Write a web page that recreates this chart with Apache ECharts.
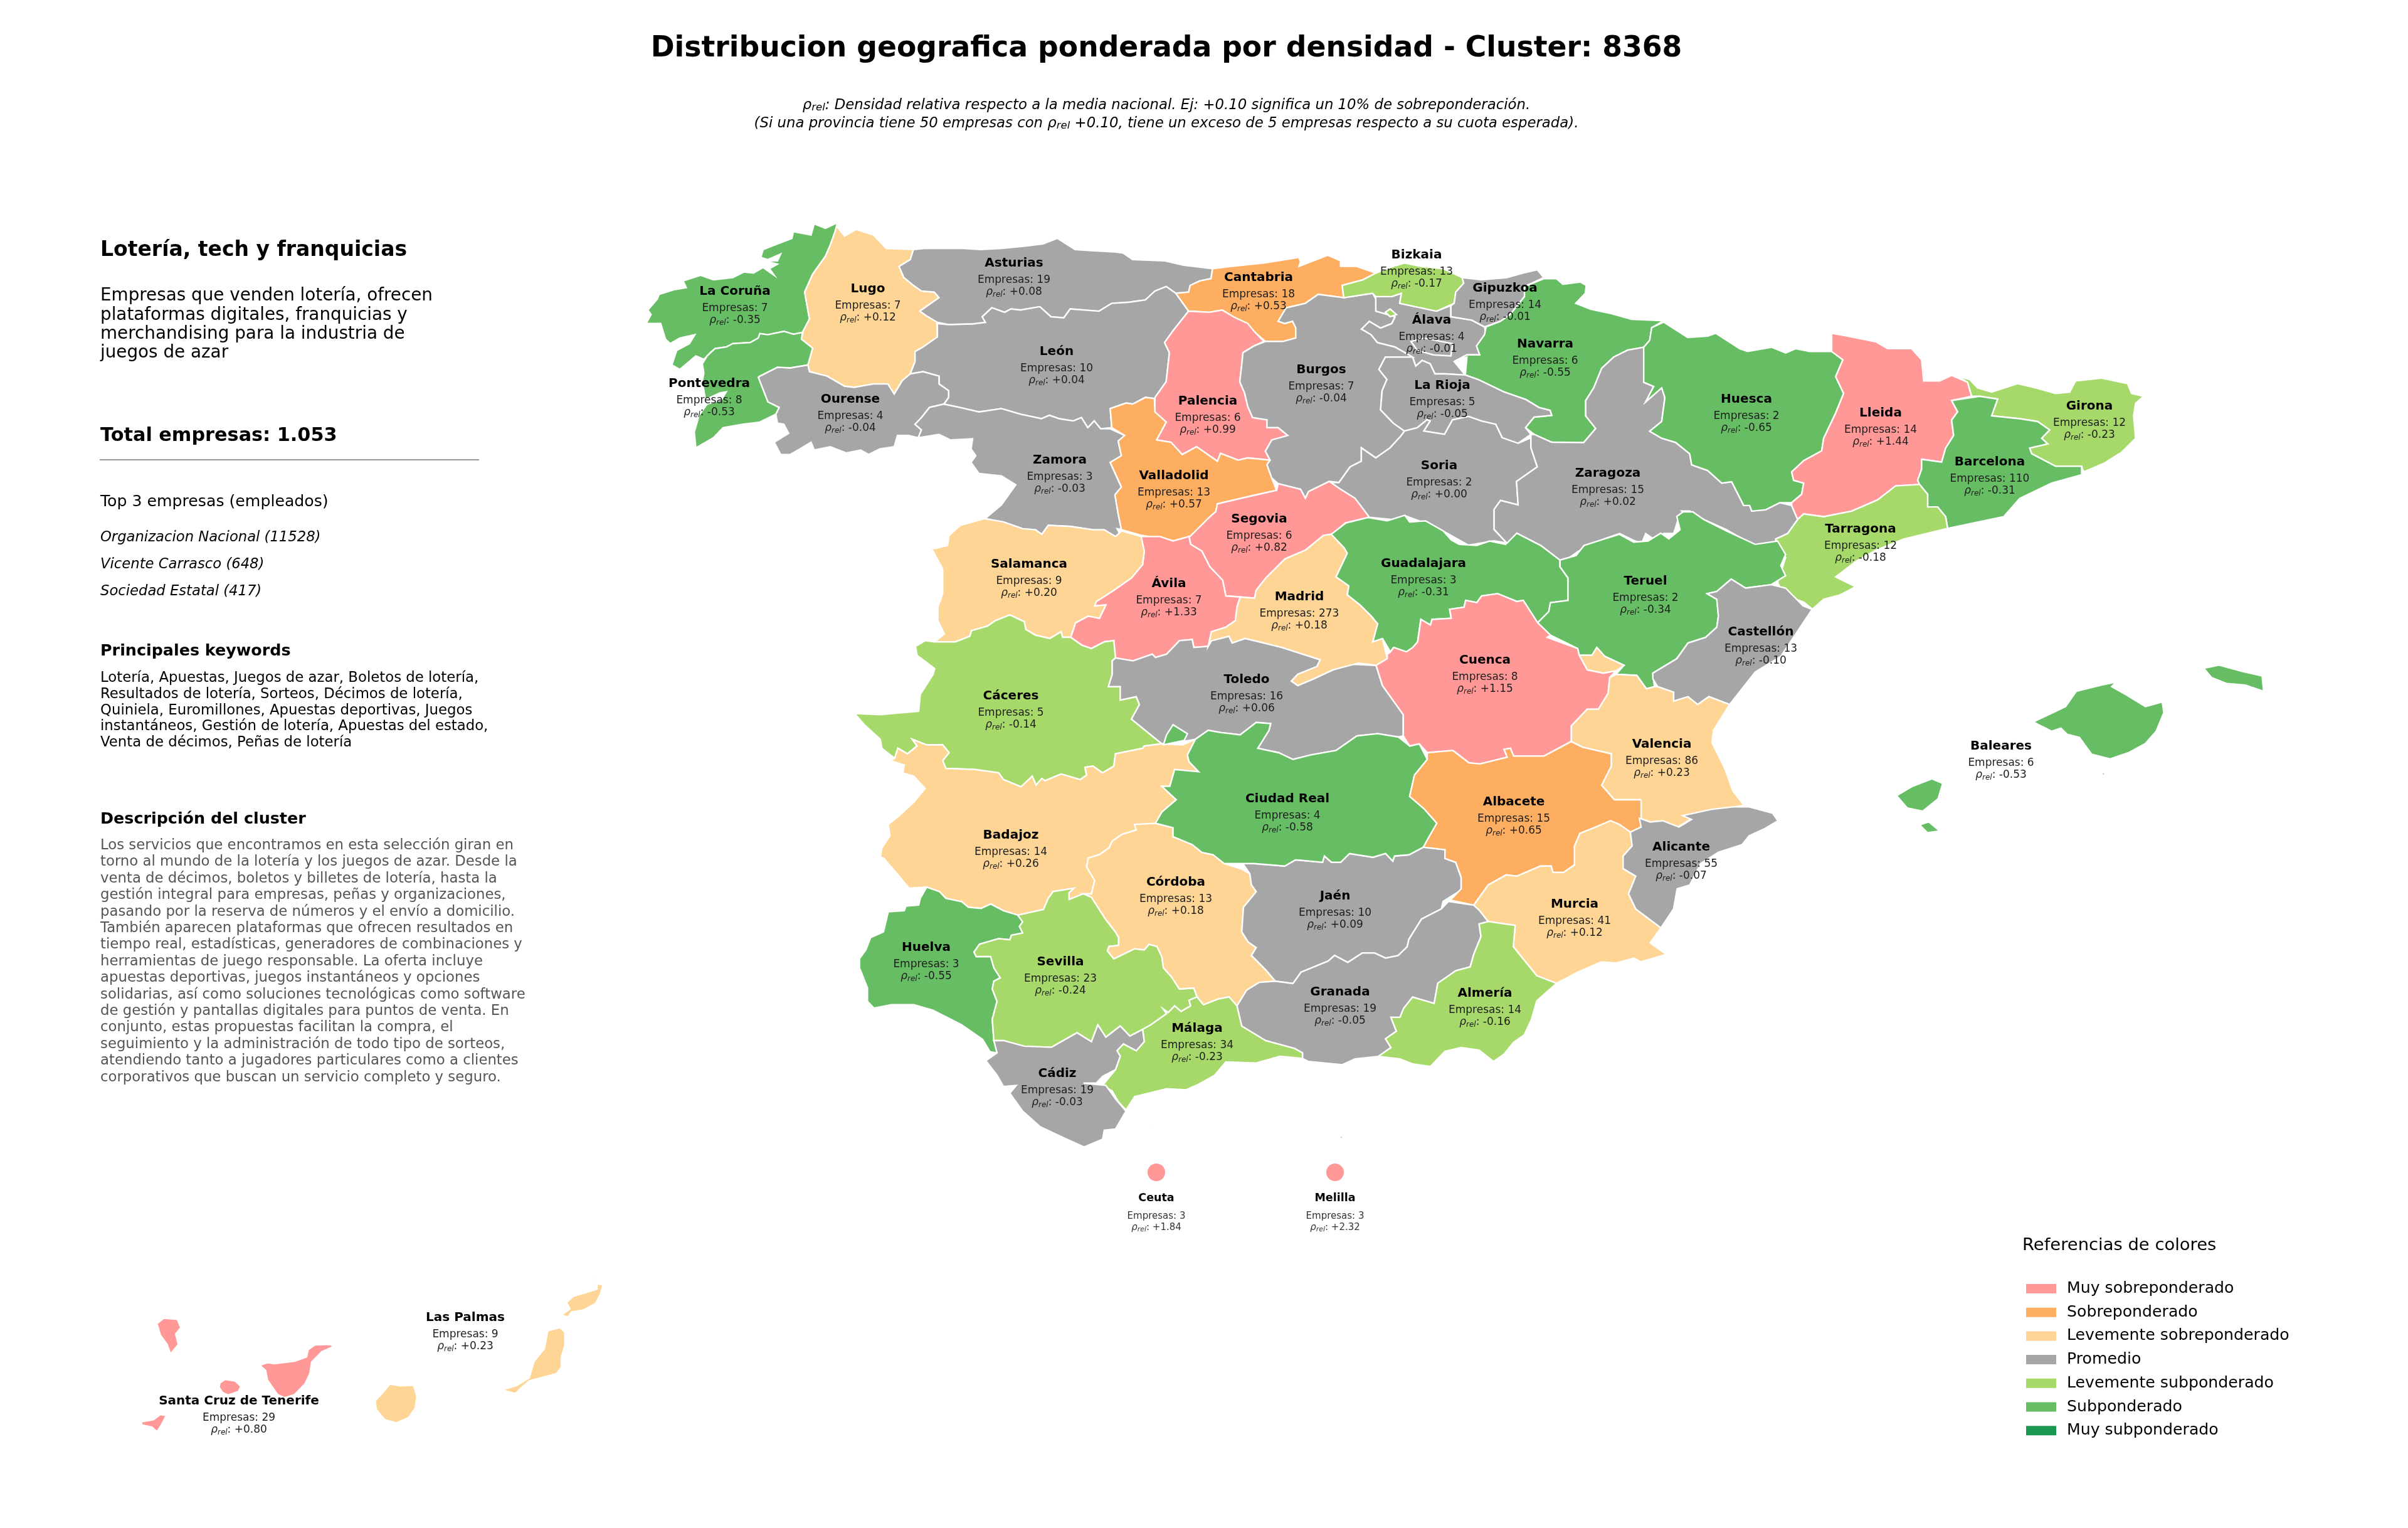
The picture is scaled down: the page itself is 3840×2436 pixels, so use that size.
<!DOCTYPE html>
<html>
<head>
    <meta charset="utf-8">
    <title>Distribucion geografica ponderada por densidad - Cluster: 8368</title>
    <script src="https://cdn.jsdelivr.net/npm/echarts@6/dist/echarts.min.js"></script>
    <style>
        html, body { margin: 0; padding: 0; width: 100%; height: 100%; background: #fff; overflow: hidden; }
        #chart { width: 3840px; height: 2436px; }
    </style>
</head>
<body>
    <div id="chart"></div>
    <script>
        // datos
        const provincias = ['La Coruña', 'Lugo', 'Asturias', 'León', 'Ourense', 'Pontevedra', 'Zamora', 'Cantabria', 'Bizkaia', 'Gipuzkoa', 'Álava', 'Navarra', 'Burgos', 'La Rioja', 'Palencia', 'Soria', 'Valladolid', 'Segovia', 'Huesca', 'Lleida', 'Girona', 'Barcelona', 'Zaragoza', 'Tarragona', 'Teruel', 'Castellón', 'Salamanca', 'Ávila', 'Madrid', 'Toledo', 'Cáceres', 'Ciudad Real', 'Guadalajara', 'Cuenca', 'Valencia', 'Albacete', 'Badajoz', 'Córdoba', 'Huelva', 'Sevilla', 'Málaga', 'Cádiz', 'Jaén', 'Granada', 'Almería', 'Murcia', 'Alicante', 'Baleares', 'Las Palmas', 'Santa Cruz de Tenerife', 'Ceuta', 'Melilla'];
        const empresas = [7, 7, 19, 10, 4, 8, 3, 18, 13, 14, 4, 6, 7, 5, 6, 2, 13, 6, 2, 14, 12, 110, 15, 12, 2, 13, 9, 7, 273, 16, 5, 4, 3, 8, 86, 15, 14, 13, 3, 23, 34, 19, 10, 19, 14, 41, 55, 6, 9, 29, 3, 3];
        const rhoRel = [-0.35, 0.12, 0.08, 0.04, -0.04, -0.53, -0.03, 0.53, -0.17, -0.01, -0.01, -0.55, -0.04, -0.05, 0.99, 0.00, 0.57, 0.82, -0.65, 1.44, -0.23, -0.31, 0.02, -0.18, -0.34, -0.10, 0.20, 1.33, 0.18, 0.06, -0.14, -0.58, -0.31, 1.15, 0.23, 0.65, 0.26, 0.18, -0.55, -0.24, -0.23, -0.03, 0.09, -0.05, -0.16, 0.12, -0.07, -0.53, 0.23, 0.80, 1.84, 2.32];

        const categorias = ['Muy sobreponderado', 'Sobreponderado', 'Levemente sobreponderado', 'Promedio', 'Levemente subponderado', 'Subponderado', 'Muy subponderado'];
        const coloresCategoria = ['#ff9896', '#fdae61', '#fed594', '#a6a6a6', '#a6d96a', '#66bd63', '#1a9850'];
        const limitesCategoria = [0.75, 0.30, 0.10, -0.1001, -0.30, -0.75];

        // centro de la linea "Empresas" de cada provincia (px de la imagen)
        const etiquetas = [[1172, 492], [1384, 488], [1617, 447], [1685, 588], [1356, 664], [1131, 639], [1690, 761], [2007, 470], [2259, 434], [2400, 487], [2283, 538], [2464, 576], [2107, 617], [2300, 642], [1926, 667], [2295, 770], [1872, 786], [2008, 855], [2785, 664], [2999, 686], [3332, 675], [3173, 764], [2564, 782], [2967, 871], [2624, 954], [2808, 1035], [1641, 927], [1864, 958], [2072, 979], [1988, 1111], [1612, 1137], [2053, 1301], [2270, 926], [2368, 1080], [2650, 1214], [2414, 1306], [1612, 1359], [1875, 1434], [1477, 1538], [1691, 1561], [1909, 1667], [1686, 1739], [2129, 1456], [2137, 1609], [2368, 1611], [2511, 1469], [2681, 1378], [3191, 1217], [742, 2128], [381, 2261], [1844, 1869], [2129, 1869]];
        const plazasAutonomas = ['Ceuta', 'Melilla'];

        const textoObjetivo = ['Empresas que venden lotería, ofrecen', 'plataformas digitales, franquicias y', 'merchandising para la industria de', 'juegos de azar'];
        const topEmpresas = ['Organizacion Nacional (11528)', 'Vicente Carrasco (648)', 'Sociedad Estatal (417)'];
        const keywords = ['Lotería, Apuestas, Juegos de azar, Boletos de lotería,', 'Resultados de lotería, Sorteos, Décimos de lotería,', 'Quiniela, Euromillones, Apuestas deportivas, Juegos', 'instantáneos, Gestión de lotería, Apuestas del estado,', 'Venta de décimos, Peñas de lotería'];
        const descripcion = ['Los servicios que encontramos en esta selección giran en', 'torno al mundo de la lotería y los juegos de azar. Desde la', 'venta de décimos, boletos y billetes de lotería, hasta la', 'gestión integral para empresas, peñas y organizaciones,', 'pasando por la reserva de números y el envío a domicilio.', 'También aparecen plataformas que ofrecen resultados en', 'tiempo real, estadísticas, generadores de combinaciones y', 'herramientas de juego responsable. La oferta incluye', 'apuestas deportivas, juegos instantáneos y opciones', 'solidarias, así como soluciones tecnológicas como software', 'de gestión y pantallas digitales para puntos de venta. En', 'conjunto, estas propuestas facilitan la compra, el', 'seguimiento y la administración de todo tipo de sorteos,', 'atendiendo tanto a jugadores particulares como a clientes', 'corporativos que buscan un servicio completo y seguro.'];

        // contornos trazados sobre recortes de la imagen: cada recorte tiene su origen y escala
        const recorte = (x0, y0, fx, fy) => (...n) => {
            const pts = [];
            for (let i = 0; i < n.length; i += 2) pts.push([x0 + n[i] / fx, y0 + n[i + 1] / fy]);
            return pts;
        };
        const A = recorte(1000, 330, 1.96, 2.8);
        const B = recorte(1750, 330, 1.96, 2.8);
        const C = recorte(2500, 480, 1.568, 2.24);
        const D = recorte(1340, 800, 1.96, 2.8);
        const E = recorte(2100, 800, 1.96, 2.8);
        const F = recorte(1340, 1300, 1.96, 2.8);
        const G = recorte(2000, 1200, 1.742, 2.489);
        const H = recorte(150, 2000, 1.845, 3);
        const K = recorte(1750, 1780, 2.8, 3);
        const Y = recorte(0, 0, 1 / 2.449, 1 / 2.449);

        const contornos = {
            'La Coruña': [A(658,70,620,95,585,75,575,125,520,110,515,140,470,165,425,190,418,225,440,235,480,210,470,240,430,240,470,255,445,275,460,305,425,270,395,295,365,290,330,315,270,325,230,305,175,330,185,360,145,370,100,390,95,410,65,460,75,480,60,520,105,520,120,590,135,610,165,585,212,570,195,610,155,640,140,705,165,725,215,665,240,680,260,650,275,632,310,625,330,610,385,605,410,585,415,565,440,570,490,555,520,568,548,560,570,500,555,380,580,300,620,220,635,170,650,110)],
            'Lugo': [A(655,85,680,130,715,100,770,125,810,185,895,190,885,235,850,265,865,315,895,350,920,375,960,380,975,405,945,435,915,465,935,485,968,510,970,580,925,625,900,645,900,690,885,745,860,775,835,835,815,790,770,790,710,805,680,800,625,755,570,735,565,705,580,630,545,590,550,555,570,500,555,380,580,300,620,220,635,170,650,110)],
            'Asturias': [[...A(895,190,930,185,1050,185,1105,190,1170,185,1240,175,1300,165,1345,140,1400,190,1450,195,1520,200), ...B(80,205,110,235,210,240,270,260,360,275,355,320,320,330,290,350,285,380,245,385,215,355,180,375,150,415,100,425,45,430), ...A(1475,465,1385,455,1365,495,1325,490,1290,445,1230,460,1200,455,1180,470,1140,450,1110,490,1120,515,1080,522,1005,525,970,515,935,485,915,465,945,435,975,405,960,380,920,375,895,350,865,315,850,265,885,235)]],
            'León': [[...A(970,520,1005,525,1080,522,1120,515,1110,490,1140,450,1180,470,1200,455,1230,460,1290,445,1325,490,1365,495,1385,455,1475,465,1515,430), ...B(100,425,150,415,180,375,215,355,245,385,285,465,235,555,210,605,225,650,215,780,190,830,178,855,150,850,110,880,90,875,40,900,45,985), ...A(1480,990,1460,955,1440,985,1420,940,1395,955,1350,945,1320,930,1295,945,1230,925,1170,900,1100,915,1040,895,990,880,1005,850,1005,820,975,790,975,755,925,735,885,745,900,690,900,645,925,625,970,580)]],
            'Ourense': [A(415,755,470,715,510,718,565,705,570,735,625,755,680,800,710,805,770,790,815,790,835,835,860,775,885,745,925,735,975,755,975,790,1005,820,1005,850,990,880,945,895,920,940,900,970,920,995,910,1030,880,1020,845,1020,835,1070,790,1080,755,1105,730,1085,685,1098,635,1070,585,1085,575,1050,540,1080,510,1105,480,1105,460,1050,505,1010,490,970,470,965,465,925,475,895,440,870,425,815,410,760)],
            'Pontevedra': [A(275,632,310,625,330,610,385,605,410,585,415,565,440,570,490,555,520,568,548,560,545,590,580,630,565,705,510,718,470,715,415,755,410,760,425,815,440,870,475,895,465,925,415,960,360,970,300,985,270,1030,215,1075,210,1005,225,930,250,880,295,860,310,825,290,830,245,860,235,780,240,740,235,700,250,665)],
            'Zamora': [[...A(990,880,1040,895,1100,915,1170,900,1230,925,1295,945,1320,930,1350,945,1395,955,1420,940,1440,985,1460,955,1480,990,1510,990), ...B(85,1020,65,1045,75,1110,40,1140,75,1250,55,1285,65,1370,75,1440), ...D(865,120,880,160,860,155,825,125,790,125,720,110,650,105,630,145,610,125,570,120,510,90,450,75), ...A(1120,1390,1170,1330,1215,1240,1170,1200,1100,1190,1075,1140,1090,1110,1075,1080,1080,1035,1010,1040,975,1015,910,1030,920,995,900,970,920,940,945,895)]],
            'Cantabria': [B(360,275,420,265,520,250,630,225,635,245,630,265,720,215,760,240,760,265,810,265,870,295,830,325,765,350,770,405,690,390,650,430,590,450,565,510,585,520,610,510,620,540,620,585,580,600,550,600,525,600,485,550,465,520,425,490,390,460,350,470,285,465,245,385,285,380,290,350,320,330,355,320)],
            'Palencia': [B(285,465,350,470,390,460,425,490,470,520,490,555,520,600,490,620,455,650,450,720,445,780,460,830,470,890,485,940,530,950,530,985,565,985,595,1020,545,1040,525,1090,540,1130,470,1120,440,1130,385,1100,375,1135,310,1070,265,1105,230,1050,185,1040,215,960,180,915,180,850,195,820,215,780,225,650,210,605,235,555)],
            'Valladolid': [B(40,900,90,875,110,880,150,850,178,855,180,915,215,960,185,1040,230,1050,265,1105,310,1070,375,1135,385,1100,440,1130,470,1120,540,1130,530,1150,545,1210,560,1265,480,1290,375,1325,370,1360,350,1385,290,1470,240,1490,135,1465,75,1440,65,1370,55,1285,75,1250,40,1140,75,1110,65,1045,85,1020,45,985)],
            'Álava': [B(870,400,920,400,950,385,945,430,1060,465,1105,440,1105,490,1170,505,1210,535,1215,570,1185,620,1195,660,1155,660,1115,690,1150,750,1085,745,1055,745,1040,700,1015,685,995,710,985,670,930,625,875,605,855,570,825,545,850,510,885,540,920,520,930,490,870,465,870,410)],
            'Burgos': [B(590,450,650,430,690,390,770,405,860,385,870,410,870,465,930,490,920,520,885,540,850,510,825,545,855,570,875,605,930,625,985,670,900,670,880,725,905,770,890,820,885,905,925,965,960,1000,950,1020,915,1075,870,1120,825,1075,825,1135,790,1160,755,1230,725,1225,660,1270,650,1300,635,1260,565,1235,545,1210,530,1150,540,1130,525,1090,545,1040,595,1020,565,985,530,985,530,950,485,940,470,890,460,830,445,780,450,720,455,650,490,620,525,600,550,600,580,600,620,585,620,540,610,510,585,520,565,510), B(980,600,1020,585,1110,610,1105,665,1050,660,1000,640)],
            'Bizkaia': [B(870,295,925,265,960,250,1010,265,1080,275,1140,315,1145,340,1120,380,1115,430,1060,465,945,430,950,385,920,400,870,400,860,385,770,405,765,350,830,325), B(900,470,915,455,935,480,915,490)],
            'Gipuzkoa': [B(1140,315,1200,325,1280,315,1330,295,1375,280,1395,315,1335,355,1335,400,1290,480,1260,510,1210,535,1170,505,1105,490,1105,440,1115,430,1120,380,1145,340)],
            'Navarra': [[...B(1335,355,1395,320,1435,320,1455,345,1510,335,1528,350,1525,385,1495,430,1540,455), ...C(60,30,110,45,160,65,240,70,210,95,205,140,190,165,150,175,115,200,85,240,65,310,45,355,45,410,70,455,40,505,0,510), ...B(1420,1050,1365,1015,1338,985,1365,938,1420,930,1415,908,1380,895,1340,860,1270,825,1190,770,1150,750,1155,670,1115,690,1155,660,1195,660,1185,620,1210,570,1215,535,1260,510,1290,480,1335,400)]],
            'La Rioja': [B(900,670,985,670,995,710,1015,685,1040,700,1055,745,1085,745,1150,750,1190,770,1270,825,1340,860,1380,895,1415,908,1420,930,1365,938,1338,985,1355,1015,1315,1055,1265,1030,1245,970,1200,955,1160,935,1110,950,1085,1015,1020,1000,1040,955,1030,950,1000,985,960,1000,925,965,885,905,890,820,905,770,880,725)],
            'Soria': [B(960,1000,1000,985,1030,950,1040,955,1020,1000,1085,1015,1110,950,1160,935,1200,955,1245,970,1265,1030,1315,1055,1355,1030,1355,1075,1375,1160,1345,1190,1310,1225,1315,1330,1260,1310,1240,1350,1240,1440,1280,1500,1240,1490,1160,1510,1060,1430,965,1380,920,1395,850,1385,805,1300,760,1260,725,1230,755,1230,790,1160,825,1135,825,1075,870,1120,915,1075,950,1020)],
            'Segovia': [[...B(565,1235,635,1260,650,1300,660,1270,725,1225,760,1260,805,1300,850,1385,775,1410,735,1460), ...D(1510,150,1455,215,1390,255,1330,340,1300,395,1295,430,1250,425,1205,420,1195,350,1155,290,1130,220,1095,190,1090,155), ...B(290,1470,350,1385,370,1360,375,1325,480,1290,560,1265)]],
            'Ávila': [D(940,155,1000,155,1040,175,1090,155,1095,190,1130,220,1155,290,1195,350,1205,420,1250,425,1240,470,1235,530,1205,560,1160,580,1150,645,1105,650,1100,615,1060,620,1020,680,985,695,975,680,915,710,860,697,855,620,825,625,785,655,755,640,720,605,735,540,775,510,810,520,830,460,795,465,800,445,850,400,910,340,945,280,950,220)],
            'Salamanca': [D(450,75,510,90,570,120,610,125,630,145,650,105,720,110,790,125,825,125,860,155,880,130,940,155,950,220,945,280,910,340,850,400,800,445,795,465,830,460,810,520,775,510,735,540,720,605,695,605,690,580,655,610,610,595,580,570,575,535,530,505,485,530,460,555,410,575,405,600,360,625,295,625,325,590,305,530,305,470,320,410,320,300,290,220,275,215,335,195,340,150,375,105)],
            'Cáceres': [D(235,645,265,620,295,625,360,625,405,600,410,575,460,555,485,530,530,505,575,535,580,570,610,595,655,610,690,580,695,605,720,605,755,640,785,655,825,625,855,620,860,697,850,710,850,770,838,825,875,825,875,885,925,870,935,905,910,970,1005,1080,950,1090,945,1100,860,1125,855,1180,820,1210,790,1180,765,1185,770,1220,750,1240,690,1215,640,1245,630,1235,612,1265,600,1225,565,1272,510,1240,495,1210,420,1195,330,1190,320,1155,340,1120,320,1085,270,1085,225,1060,240,1090,210,1125,180,1100,170,1145,130,1100,125,1060,75,995,45,945,125,950,245,935,250,860,290,770,295,745,240,685)],
            'Badajoz': [[...D(155,1155,170,1145,180,1100,210,1125,240,1090,225,1060,270,1085,320,1085,340,1120,320,1155,330,1190,420,1195,495,1210,510,1240,565,1272,600,1225,612,1265,630,1235,640,1245,690,1215,750,1240,770,1220,765,1185,790,1180,820,1210,855,1180,860,1125,945,1100,950,1090,1005,1080,1070,1085,1110,1060,1085,1130,1090,1160,1120,1205,1045,1195,1030,1270,1005,1270,1050,1330,1005,1385,985,1440), ...F(920,40,925,65,880,85,850,115,840,145,810,175,775,190,770,230,795,290,785,350,760,350,715,375,715,345,730,325,665,340,650,370,635,420,555,445,510,425,470,395,440,415,400,410,380,385,330,370,310,340,270,320,215,325,180,265,135,190,125,185,130,145,155,90,150,40), ...D(185,1400,230,1340,265,1280,230,1225,195,1210,200,1175)]],
            'Huelva': [F(270,320,310,340,330,370,380,385,400,410,440,415,470,395,510,425,555,445,570,475,560,495,570,525,535,535,530,555,495,550,435,575,418,610,425,630,470,630,480,680,500,725,480,740,475,775,490,830,475,910,480,1005,490,1060,468,1055,445,1000,380,935,290,870,230,845,160,845,105,860,85,830,85,770,60,680,60,640,80,600,95,545,135,520,150,430,200,425,205,405,245,400,250,370)],
            'Sevilla': [F(555,445,635,420,650,370,665,340,730,325,715,345,715,375,760,350,785,365,805,410,830,465,860,520,870,545,870,580,840,585,835,605,855,640,920,595,950,600,965,575,990,585,1005,630,1010,680,1035,720,1060,775,1105,770,1115,810,1090,825,1095,850,1065,875,1045,850,1025,880,1010,865,1020,885,970,935,945,955,905,985,875,940,830,990,805,935,785,1010,740,970,660,1035,575,1030,510,1005,480,1005,475,910,490,830,475,775,480,740,500,725,480,680,470,630,425,630,418,610,435,575,495,550,530,555,535,535,570,525,560,495,570,475)],
            'Córdoba': [F(985,35,1040,55,1040,95,1100,130,1130,165,1165,175,1200,215,1255,240,1280,260,1285,310,1300,340,1260,410,1255,520,1275,565,1300,590,1285,625,1330,690,1360,740,1310,745,1270,780,1240,850,1215,810,1180,820,1135,845,1115,810,1105,770,1060,775,1035,720,1010,680,1005,630,990,585,965,575,950,600,920,595,855,640,835,605,840,585,870,580,870,545,860,520,830,465,805,410,785,365,760,350,785,350,795,290,770,230,775,190,810,175,840,145,850,115,880,85,925,65,920,40)],
            'Málaga': [F(1115,810,1135,845,1180,820,1215,810,1240,850,1255,940,1330,1005,1420,1040,1445,1060,1445,1085,1375,1075,1300,1105,1205,1100,1170,1160,1120,1200,1080,1225,1020,1220,920,1255,893,1315,870,1280,850,1230,820,1205,860,1135,875,1075,865,1050,885,1020,925,1050,950,1010,945,955,970,935,1020,885,1010,865,1025,880,1045,850,1065,875,1095,850,1090,825)],
            'Cádiz': [F(480,1005,510,1005,575,1030,660,1035,740,970,785,1010,805,935,830,990,875,940,905,985,945,955,950,1010,925,1050,885,1020,865,1050,875,1075,860,1135,820,1165,800,1195,760,1195,830,1205,860,1265,893,1320,860,1400,825,1405,820,1445,762,1480,700,1440,625,1390,570,1320,530,1240,550,1205,510,1210,490,1160,455,1095,490,1060)],
            'Jaén': [[...F(1258,215,1280,260,1285,310,1300,340,1260,410,1255,520,1275,565,1300,590,1285,625,1330,690,1360,740,1415,750,1440,700,1525,650,1545,625), ...G(260,832,300,795,335,795,365,815,400,805,425,770,430,740,465,660,520,620,525,590,575,545,575,495,560,435,530,420,530,385,470,375,430,405,390,410,385,430,365,400,330,415,265,400,240,435,215,435,195,410,190,435,115,425,85,450,0,440)]],
            'Toledo': [[...D(860,697,915,710,975,680,985,695,1020,680,1060,620,1100,615,1105,650,1150,645,1160,620,1215,600,1225,630,1265,610,1310,625,1380,650,1500,705,1490,735,1430,770,1410,800,1430,820,1480,790,1540,750), ...E(110,725,185,730,205,820,270,950,270,1045,255,1050,190,1035,125,1045,60,1110), ...D(1470,1130,1415,1150,1370,1120,1305,1100,1340,1020,1345,990,1300,985,1250,1040,1190,1030,1150,1020,1110,1060,1070,1070,1005,1080,910,970,935,905,925,870,875,885,875,825,838,825,850,770,850,710)]],
            'Ciudad Real': [[...D(1110,1060,1150,1020,1190,1030,1250,1040,1300,985,1345,990,1340,1020,1305,1100,1370,1120,1415,1150,1470,1130), ...E(60,1110,125,1045,190,1035,255,1050,290,1090,320,1080,345,1150,305,1220,290,1315,335,1370,375,1435,345,1510), ...G(470,375,430,405,390,410,385,430,365,400,330,415,265,400,240,435,215,435,195,410,190,435,115,425,85,450,0,440), ...F(1200,215,1165,175,1130,165,1100,130,1040,95,1040,55,985,35), ...D(1005,1385,1050,1330,1005,1270,1030,1270,1045,1195,1120,1205,1090,1160,1085,1130)], D(1040,995,1085,1035,1075,1065,1010,1085,1020,1040)],
            'Madrid': [[...E(45,145,85,205,95,230,75,290,60,335,100,375,95,415,135,460,170,510,190,545,175,625,205,610,220,700,185,730,130,720), ...D(1540,750,1480,790,1430,820,1410,800,1430,770,1490,735,1500,705,1380,650,1310,625,1265,610,1225,630,1215,600,1160,620,1150,645,1160,580,1205,560,1235,530,1240,470,1250,425,1295,430,1300,395,1330,340,1390,255,1455,215,1510,150)]],
            'Guadalajara': [E(45,145,90,95,160,70,220,85,275,60,290,90,340,85,395,130,420,170,445,190,500,195,540,175,590,190,595,145,625,140,700,195,760,260,760,290,785,340,785,440,730,450,725,490,690,540,645,440,625,445,565,410,515,420,500,450,465,440,460,470,415,480,420,520,360,525,355,550,325,525,315,625,300,650,280,670,240,650,230,670,205,610,175,625,190,545,170,510,135,460,95,415,100,375,60,335,75,290,95,230,85,205)],
            'Zaragoza': [[...C(190,165,190,240,190,290,215,305,195,360,235,310,243,345,235,430,205,465,235,490,270,505,305,545,310,585,350,605,385,650,410,645,440,730,455,730,460,750,495,745,530,720,560,730,575,780,550,830,520,850,525,875,470,875,445,855,395,815,340,780,305,750,285,750,300,770,305,800,275,785,265,830,240,830,220,855,195,830,185,865,165,855,130,830,90,850,50,875,25,895,0,920), ...E(810,240,760,260,700,195,625,140,594,185,554,123), ...B(1240,1350,1260,1310,1315,1330,1310,1225,1345,1190,1375,1160,1355,1075,1355,1015,1365,1015,1420,1050), ...C(40,505,70,455,45,410,45,355,65,310,85,240,115,200,150,175)]],
            'Huesca': [C(240,75,300,130,350,125,370,115,430,170,450,180,510,165,545,185,570,170,605,180,665,180,688,210,670,270,690,330,670,400,640,490,635,535,590,570,560,610,565,640,590,650,585,690,560,720,530,720,495,745,460,750,455,730,440,730,410,645,385,650,350,605,310,585,305,545,270,505,235,490,205,465,235,430,243,345,235,310,195,360,215,305,190,290,190,240,190,165,205,140,210,95)],
            'Lleida': [C(660,115,700,125,770,145,800,170,860,170,885,210,890,285,930,285,960,265,1000,290,1010,340,960,355,975,395,960,425,965,480,945,525,935,575,885,565,885,600,875,640,880,655,820,660,775,710,710,750,640,770,590,760,575,780,560,730,560,720,585,690,590,650,565,640,560,610,590,570,635,535,640,490,670,400,690,330,670,270,688,210,660,180)],
            'Girona': [C(975,268,1005,280,1025,310,1060,325,1125,295,1170,310,1220,330,1255,325,1270,285,1335,275,1400,295,1410,330,1440,340,1420,365,1415,410,1420,490,1385,540,1340,580,1290,610,1285,590,1220,590,1160,545,1155,525,1200,510,1185,490,1205,460,1175,430,1130,420,1060,410,1075,350,1030,340,1010,340,1000,290)],
            'Barcelona': [C(960,355,1030,340,1075,350,1060,410,1130,420,1175,430,1205,460,1185,490,1200,510,1155,525,1160,545,1220,590,1285,590,1285,620,1210,650,1130,705,1090,770,950,812,945,770,925,735,900,735,900,690,880,655,875,640,885,600,885,565,935,575,945,525,965,480,960,425,975,395)],
            'Tarragona': [C(575,780,590,760,640,770,710,750,775,710,820,660,880,655,900,690,900,735,925,735,945,770,950,812,840,850,770,890,720,930,670,985,720,1020,680,1050,640,1065,612,1100,590,1075,540,1050,525,1005,545,915,525,875,520,850,550,830)],
            'Teruel': [E(760,260,810,240,835,195,890,170,945,145,990,180,1035,175,1075,140,1100,165,1135,125,1125,65,1145,45,1175,45,1210,80,1280,130,1370,190,1440,175,1465,235,1450,285,1465,330,1420,370,1340,385,1295,345,1250,400,1220,410,1250,435,1255,510,1250,560,1215,605,1160,630,1125,700,1050,765,1055,825,1030,835,1000,775,935,770,960,730,900,690,875,650,860,685,820,685,815,655,730,595,690,540,725,490,730,450,785,440,785,340,760,290)],
            'Castellón': [E(1295,345,1340,385,1420,370,1465,385,1520,465,1548,480,1450,690,1370,760,1290,905,1225,870,1190,905,1160,870,1115,890,1115,850,1065,825,1050,790,1050,765,1125,700,1160,630,1215,605,1250,560,1255,510,1250,435,1220,410,1250,400)],
            'Valencia': [E(915,785,935,770,1000,775,1030,835,1055,825,1065,825,1115,850,1115,890,1160,870,1190,905,1225,870,1290,905,1240,1020,1235,1075,1275,1190,1300,1290,1335,1355,1270,1370,1230,1385,1170,1415,1125,1455,1081,1424,1042,1430,1007,1411,1010,1330,930,1330,890,1265,920,1180,920,1125,830,1095,795,1070,795,1000,845,925,880,925,910,855), E(820,685,860,685,875,650,900,690,960,730,935,755,895,765,845,750)],
            'Cuenca': [E(230,670,240,650,280,670,300,650,315,625,325,525,355,550,360,525,420,520,415,480,460,470,465,440,500,450,515,420,565,410,625,445,645,440,690,540,730,595,720,605,815,655,820,685,845,750,895,765,935,755,915,785,910,855,880,925,845,925,795,1000,795,1070,710,1135,615,1135,605,1100,585,1105,595,1140,510,1170,475,1165,425,1110,345,1120,320,1080,290,1090,270,1045,270,950,205,820,185,730,220,700,220,680)],
            'Albacete': [[...E(345,1120,425,1110,475,1165,510,1170,595,1140,585,1105,605,1100,615,1135,710,1135,795,1070,830,1095,920,1125,920,1180,890,1265,930,1330,1010,1330), ...G(1075,190,1075,295,1045,315,1015,285,990,270,940,300,905,320,890,370,890,445,860,475,830,475,825,450,795,450,730,490,700,485,650,525,610,605,545,585,575,540,575,495,560,435,530,420,530,385,470,375), ...E(345,1510,375,1435,335,1370,290,1315,305,1220,345,1150)]],
            'Murcia': [G(610,605,650,525,700,485,730,490,795,450,825,450,830,475,860,475,890,445,890,370,905,320,940,300,990,270,1015,285,1045,315,1050,370,1025,410,1025,460,1060,490,1040,560,1060,620,1130,695,1100,755,1145,800,1075,830,1055,815,1005,835,965,830,900,870,840,915,785,885,720,770,725,685,650,670,625,625)],
            'Alicante': [G(1045,315,1075,295,1070,260,1100,275,1135,270,1180,295,1215,265,1190,250,1270,225,1330,215,1375,215,1440,240,1455,270,1420,300,1375,330,1355,365,1290,395,1240,440,1210,525,1175,540,1165,620,1130,695,1060,620,1040,560,1060,490,1025,460,1025,410,1050,370)],
            'Granada': [[...G(540,590,610,605,625,625,650,670,625,680,630,730,610,800,600,850,560,865,510,915,500,995,440,970,415,1015,405,1050,380,1050,395,1105,365,1135,380,1170,345,1205,280,1215,245,1238,150,1225), ...F(1445,1085,1445,1060,1420,1040,1330,1005,1255,940,1240,850,1270,780,1310,745,1360,740,1415,750,1440,700,1525,650,1545,625), ...G(260,832,300,795,335,795,365,815,400,805,425,770,430,740,465,660,520,620)]],
            'Almería': [G(650,670,725,685,720,770,785,885,840,915,785,985,770,1060,750,1120,720,1150,695,1195,665,1225,625,1180,575,1170,530,1185,490,1245,440,1235,405,1215,345,1205,380,1170,365,1135,395,1105,380,1050,405,1050,415,1015,440,970,500,995,510,915,560,865,600,850,610,800,630,730,625,680)],
            'Baleares': [Y(1324,470,1345,460,1352,450,1368,446,1378,444,1375,447,1384,452,1397,460,1408,457,1409,464,1404,476,1397,484,1386,490,1374,494,1362,491,1354,480,1346,478,1342,474,1336,476), Y(1435,435,1445,433,1460,437,1473,440,1474,450,1462,446,1450,445,1440,441), Y(1235,518,1245,512,1258,507,1265,510,1262,520,1252,528,1242,526), Y(1250,537,1256,535,1263,541,1255,542), Y(1368,503,1371,503,1370,505)],
            'Las Palmas': [H(827,700,850,660,870,620,900,628,940,625,950,680,945,735,925,780,890,805,855,790,830,740), H(1335,365,1370,350,1385,370,1385,435,1375,490,1375,540,1360,570,1280,605,1255,640,1240,665,1200,648,1245,625,1280,590,1295,510,1325,450), H(1375,290,1400,260,1390,230,1410,200,1450,180,1480,165,1480,140,1497,145,1490,190,1475,235,1440,265,1405,275,1395,298), H(1472,125,1478,108,1482,125)],
            'Santa Cruz de Tenerife': [H(185,330,205,305,245,310,255,350,240,380,248,430,225,475,215,430,195,385), H(140,800,175,790,195,765,212,770,200,810,185,848,170,825,140,815), H(370,615,385,597,415,605,432,630,425,655,395,672,378,660,368,635), H(488,530,510,517,530,522,590,510,625,490,630,455,650,432,695,430,705,440,670,465,640,515,635,570,620,620,590,670,560,685,540,670,510,600,505,555)],
            'Ceuta': [K(225,37,240,42,250,47,235,50)],
            'Melilla': [K(1082,100,1089,90,1097,100,1089,108)]
        };

        const ALTO = 2436;
        const flip = ([x, y]) => [x, ALTO - y];
        const categoriaDe = (rho) => {
            const i = limitesCategoria.findIndex((lim) => rho > lim);
            return i === -1 ? categorias.length - 1 : i;
        };
        const signo = (v) => (v >= 0 ? '+' : '-') + Math.abs(v).toFixed(2);

        echarts.registerMap('espana', {
            type: 'FeatureCollection',
            features: Object.keys(contornos).map((name) => ({
                type: 'Feature',
                properties: { name },
                geometry: {
                    type: 'MultiPolygon',
                    coordinates: contornos[name].map((ring) => [ring.concat([ring[0]]).map(flip)])
                }
            }))
        });

        const FUENTE = '"DejaVu Sans"';
        const richProvincia = {
            n: { fontFamily: FUENTE, fontWeight: 'bold', fontSize: 20, lineHeight: 36, color: '#000' },
            e: { fontFamily: FUENTE, fontSize: 17, lineHeight: 19, color: '#1c1c1c' },
            r: { fontFamily: FUENTE, fontStyle: 'italic', fontSize: 17, lineHeight: 19, color: '#1c1c1c' },
            s: { fontFamily: FUENTE, fontStyle: 'italic', fontSize: 12, lineHeight: 19, color: '#1c1c1c', verticalAlign: 'bottom', padding: [6, 0, 0, 0] }
        };
        const richPlaza = {
            n: { fontFamily: FUENTE, fontWeight: 'bold', fontSize: 17.5, lineHeight: 40, color: '#000' },
            e: { fontFamily: FUENTE, fontSize: 15, lineHeight: 18, color: '#333' },
            r: { fontFamily: FUENTE, fontStyle: 'italic', fontSize: 15, lineHeight: 18, color: '#333' },
            s: { fontFamily: FUENTE, fontStyle: 'italic', fontSize: 11, lineHeight: 18, color: '#333', verticalAlign: 'bottom', padding: [5, 0, 0, 0] }
        };

        const seriesCategorias = categorias.map((cat, c) => ({
            name: cat,
            type: 'scatter',
            coordinateSystem: 'geo',
            silent: true,
            z: 5,
            itemStyle: { color: coloresCategoria[c], opacity: 1 },
            data: provincias.map((p, i) => ({ p, i })).filter(({ i }) => categoriaDe(rhoRel[i]) === c).map(({ p, i }) => {
                const esPlaza = plazasAutonomas.includes(p);
                return {
                    name: p,
                    value: [...flip(etiquetas[i]), empresas[i], rhoRel[i]],
                    symbolSize: esPlaza ? 28 : 0,
                    label: {
                        show: true,
                        position: 'inside',
                        offset: esPlaza ? [0, 59] : [0, -8.5],
                        align: 'center',
                        verticalAlign: 'middle',
                        rich: esPlaza ? richPlaza : richProvincia,
                        formatter: `{n|${p}}\n{e|Empresas: ${empresas[i]}}\n{r|ρ}{s|rel}{e|: ${signo(rhoRel[i])}}`
                    }
                };
            })
        }));

        // textos del panel izquierdo
        const texto = (text, x, y, extra) => ({
            type: 'text', silent: true,
            style: Object.assign({ text, x, y, fontFamily: FUENTE, fontSize: 22, fill: '#000', verticalAlign: 'middle' }, extra)
        });
        const richSubtitulo = {
            i: { fontFamily: FUENTE, fontStyle: 'italic', fontSize: 22.8, fill: '#000', color: '#000' },
            s: { fontFamily: FUENTE, fontStyle: 'italic', fontSize: 16.5, fill: '#000', color: '#000', verticalAlign: 'bottom', padding: [7, 0, 0, 0] }
        };
        const graficos = [
            texto('{i|ρ}{s|rel}{i|: Densidad relativa respecto a la media nacional. Ej: +0.10 significa un 10% de sobreponderación.}', 1860, 168, { align: 'center', rich: richSubtitulo }),
            texto('{i|(Si una provincia tiene 50 empresas con ρ}{s|rel}{i| +0.10, tiene un exceso de 5 empresas respecto a su cuota esperada).}', 1860, 197, { align: 'center', rich: richSubtitulo }),
            texto('Lotería, tech y franquicias', 160, 399, { fontSize: 33, fontWeight: 'bold' }),
            texto('Total empresas: 1.053', 160, 695, { fontSize: 30.3, fontWeight: 'bold' }),
            { type: 'line', silent: true, shape: { x1: 159, y1: 733, x2: 764, y2: 733 }, style: { stroke: '#999', lineWidth: 2 } },
            texto('Top 3 empresas (empleados)', 160, 800, { fontSize: 25.2 }),
            texto('Principales keywords', 160, 1038, { fontSize: 25.4, fontWeight: 'bold' }),
            texto('Descripción del cluster', 160, 1306, { fontSize: 25.4, fontWeight: 'bold' }),
            texto('Referencias de colores', 3225, 1986, { fontSize: 27.4 })
        ];
        textoObjetivo.forEach((t, i) => graficos.push(texto(t, 160, 472 + i * 30.4, { fontSize: 27.8 })));
        topEmpresas.forEach((t, i) => graficos.push(texto(t, 160, 857 + i * 43, { fontSize: 22.7, fontStyle: 'italic' })));
        keywords.forEach((t, i) => graficos.push(texto(t, 160, 1081 + i * 25.8, { fontSize: 22.8 })));
        descripcion.forEach((t, i) => graficos.push(texto(t, 160, 1348 + i * 26.4, { fontSize: 22.8, fill: '#555' })));

        const chart = echarts.init(document.getElementById('chart'), null, { renderer: 'canvas' });
        chart.setOption({
            animation: false,
            backgroundColor: '#fff',
            title: {
                text: 'Distribucion geografica ponderada por densidad - Cluster: 8368',
                left: 1855, top: 73, textAlign: 'center', textVerticalAlign: 'middle',
                textStyle: { fontFamily: FUENTE, fontWeight: 'bold', fontSize: 45.7, color: '#000' }
            },
            legend: {
                orient: 'vertical',
                left: 3226, top: 2037,
                icon: 'rect',
                itemWidth: 48, itemHeight: 15, itemGap: 12.7,
                selectedMode: false,
                textStyle: { fontFamily: FUENTE, fontSize: 25.2, color: '#000', padding: [0, 0, 0, 12] },
                data: categorias
            },
            geo: {
                map: 'espana',
                silent: true,
                roam: false,
                aspectScale: 1,
                boundingCoords: [[0, ALTO], [3840, 0]],
                layoutCenter: ['50%', '50%'],
                layoutSize: 3840,
                label: { show: false },
                itemStyle: { borderColor: '#fff', borderWidth: 2.4 },
                regions: provincias.map((name, i) => ({
                    name,
                    itemStyle: { areaColor: coloresCategoria[categoriaDe(rhoRel[i])], borderColor: '#fff', borderWidth: 2.4 }
                }))
            },
            series: seriesCategorias,
            graphic: { elements: graficos }
        });
    </script>
</body>
</html>
